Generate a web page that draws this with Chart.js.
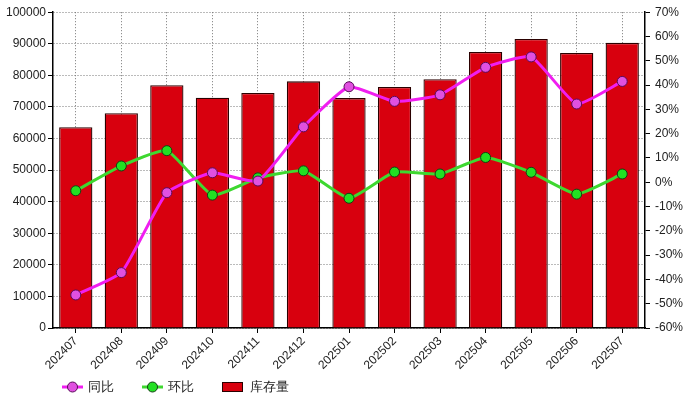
<!DOCTYPE html>
<html><head><meta charset="utf-8">
<script src="https://cdn.jsdelivr.net/npm/chart.js@4/dist/chart.umd.min.js"></script>
<style>html,body{margin:0;padding:0;background:#fff}#wrap{width:693px;height:399px}</style>
</head><body><div id="wrap"><canvas id="c" width="693" height="399"></canvas></div>
<script>
const categories = ['202407','202408','202409','202410','202411','202412','202501','202502','202503','202504','202505','202506','202507'];
const inventory = [63600, 68000, 76900, 72900, 74400, 78100, 72800, 76300, 78800, 87400, 91500, 87100, 90300];
const yoy = [-46.4, -37.2, -4.3, 3.9, 0.5, 22.8, 39.3, 33.3, 36.0, 47.3, 51.6, 32.2, 41.5];
const mom = [-3.5, 6.7, 13.0, -5.3, 1.8, 4.7, -6.6, 4.2, 3.4, 10.2, 4.1, -4.9, 3.4];
const seriesNames = ['同比', '环比', '库存量'];

const FONT = "'Liberation Sans', Arial, sans-serif";

const legendPlugin = {
  id:'customLegend',
  afterDraw(chart){
    const ctx = chart.ctx;
    const y = 387;
    ctx.save();
    ctx.font = '13px ' + FONT;
    ctx.textBaseline = 'middle';
    const items = [
      {x:62, ds:0, type:'line'},
      {x:142, ds:1, type:'line'},
      {x:222, ds:2, type:'box'}
    ];
    items.forEach(it=>{
      const d = chart.data.datasets[it.ds];
      if(it.type==='line'){
        ctx.strokeStyle = d.borderColor; ctx.lineWidth = 3;
        ctx.beginPath(); ctx.moveTo(it.x, y); ctx.lineTo(it.x+21, y); ctx.stroke();
        ctx.beginPath(); ctx.arc(it.x+10.5, y, 5, 0, Math.PI*2);
        ctx.fillStyle = d.pointBackgroundColor; ctx.fill();
        ctx.lineWidth = 1; ctx.strokeStyle = d.pointBorderColor; ctx.stroke();
        ctx.fillStyle = '#222';
        ctx.fillText(d.label, it.x+26, y);
      } else {
        ctx.fillStyle = d.backgroundColor; ctx.fillRect(it.x, y-5, 21, 10);
        ctx.strokeStyle = d.borderColor; ctx.lineWidth = 1; ctx.strokeRect(it.x+0.5, y-4.5, 20, 9);
        ctx.fillStyle = '#222';
        ctx.fillText(d.label, it.x+28, y);
      }
    });
    ctx.restore();
  }
};

new Chart(document.getElementById('c'), {
  type:'bar',
  data:{
    labels: categories,
    datasets:[
      {type:'line', label:seriesNames[0], data:yoy, yAxisID:'yr', order:0,
       borderColor:'#f01ef0', borderWidth:3, tension:0.15,
       pointRadius:5, pointBackgroundColor:'#e050e0', pointBorderColor:'#5a0a5a', pointBorderWidth:1},
      {type:'line', label:seriesNames[1], data:mom, yAxisID:'yr', order:1,
       borderColor:'#3ed830', borderWidth:3, tension:0.15,
       pointRadius:5, pointBackgroundColor:'#22e022', pointBorderColor:'#124012', pointBorderWidth:1},
      {type:'bar', label:seriesNames[2], data:inventory, yAxisID:'yl', order:2,
       backgroundColor:'#d8000e', borderColor:'#2a0000', borderWidth:1.3,
       categoryPercentage:1, barPercentage:0.73}
    ]
  },
  options:{
    responsive:false, animation:false,
    layout:{padding:{top:12, left:0, right:0, bottom:29}},
    plugins:{legend:{display:false}, tooltip:{enabled:false}},
    scales:{
      x:{
        offset:true,
        grid:{offset:false, color:'#777', drawTicks:true, tickLength:5, tickColor:'#000'},
        border:{color:'#000', width:1.5, dash:[1,2]},
        ticks:{font:{size:12, family:FONT}, color:'#222', minRotation:45, maxRotation:45, padding:1},
        afterFit(s){ s.height = 42; }
      },
      yl:{
        position:'left', min:0, max:100000,
        ticks:{stepSize:10000, font:{size:12, family:FONT}, color:'#222', padding:2, callback:v=>String(v)},
        grid:{color:'#777', tickColor:'#000', tickLength:5},
        border:{color:'#000', width:1.5, dash:[1,2]},
        afterFit(s){ s.width = 53; }
      },
      yr:{
        position:'right', min:-60, max:70,
        ticks:{stepSize:10, font:{size:12, family:FONT}, color:'#222', padding:5, callback:v=>v+'%'},
        grid:{drawOnChartArea:false, tickColor:'#000', tickLength:5},
        border:{color:'#000', width:1.5},
        afterFit(s){ s.width = 48; }
      }
    }
  },
  plugins:[legendPlugin]
});
</script></body></html>
